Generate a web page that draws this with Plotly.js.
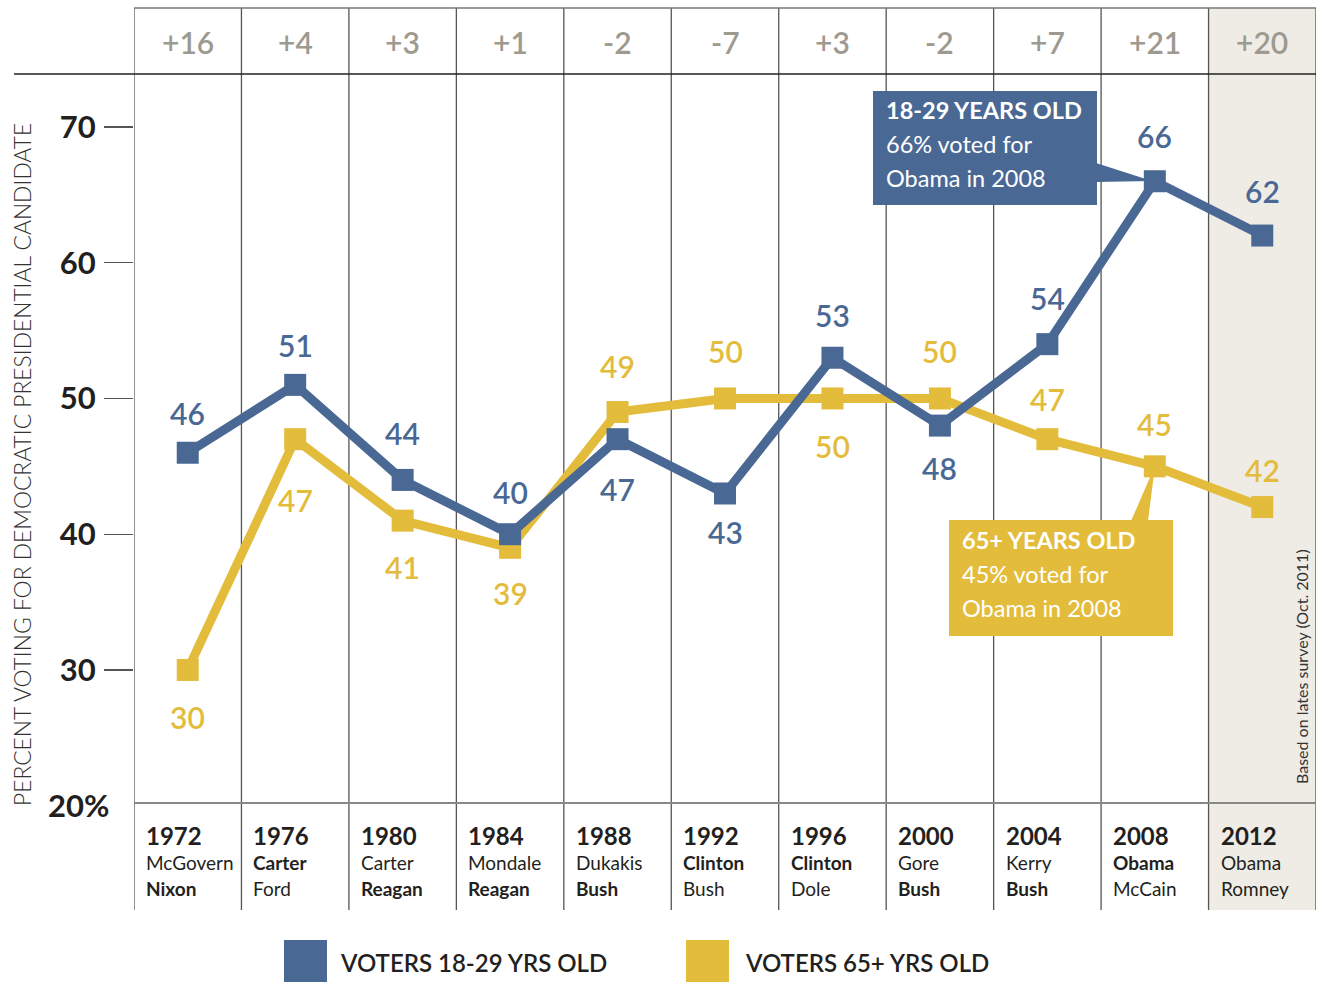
<!DOCTYPE html>
<html>
<head>
<meta charset="utf-8">
<script src="https://cdn.plot.ly/plotly-3.0.1.min.js"></script>
<style>html,body{margin:0;padding:0;background:#fff;}#chart{width:1317px;height:982px;}</style>
</head>
<body>
<div id="chart"></div>
<script>
// ---- data ----
const years = ["1972","1976","1980","1984","1988","1992","1996","2000","2004","2008","2012"];
const demCandidates = ["McGovern","Carter","Carter","Mondale","Dukakis","Clinton","Clinton","Gore","Kerry","Obama","Obama"];
const repCandidates = ["Nixon","Ford","Reagan","Reagan","Bush","Bush","Dole","Bush","Bush","McCain","Romney"];
const winners = ["R","D","R","R","R","D","D","R","R","D",""];
const gaps = ["+16","+4","+3","+1","-2","-7","+3","-2","+7","+21","+20"];
const young = [46,51,44,40,47,43,53,48,54,66,62];
const old = [30,47,41,39,49,50,50,50,47,45,42];

// ---- styles ----
const BLUE = "#4a6894", YELLOW = "#e3bc3c", FONT = "Lato, 'Open Sans', sans-serif";
const youngLabelShift = [40,40,47,42,-50,-39,43,-42,46,45,45];
const oldLabelShift = [-47,-61,-46,-45,46,47,-48,47,40,42,37];

const T = 74, B = 803, L = 134, R = 1316;
const pxX = p => (p - L) / (R - L);
const pxY = p => (B - p) / (B - T);
const idx = years.map((_, i) => i);

const traces = [
  {x: idx, y: old, type: "scatter", mode: "lines+markers", line: {color: YELLOW, width: 9},
   marker: {symbol: "square", size: 22, color: YELLOW}, hoverinfo: "skip", name: "VOTERS 65+ YRS OLD"},
  {x: idx, y: young, type: "scatter", mode: "lines+markers", line: {color: BLUE, width: 9},
   marker: {symbol: "square", size: 22, color: BLUE}, hoverinfo: "skip", name: "VOTERS 18-29 YRS OLD"}
];

const shapes = [];
const annotations = [];

// 2012 column background
shapes.push({type: "rect", xref: "x", yref: "paper", x0: years.length - 1.5, x1: years.length - 0.5,
  y0: pxY(910), y1: pxY(8), fillcolor: "#efece6", line: {width: 0}, layer: "below"});
// vertical separators
for (let i = 0; i <= years.length; i++) {
  shapes.push({type: "line", xref: "x", yref: "paper", x0: i - 0.5, x1: i - 0.5, y0: pxY(910), y1: pxY(8),
    line: {color: "#555", width: 1.3}, layer: "below"});
}
// horizontal lines
shapes.push({type: "line", xref: "paper", yref: "paper", x0: pxX(134), x1: pxX(1316), y0: pxY(8), y1: pxY(8), line: {color: "#777", width: 1.5}});
shapes.push({type: "line", xref: "paper", yref: "paper", x0: pxX(14), x1: pxX(1316), y0: pxY(74), y1: pxY(74), line: {color: "#222", width: 1.5}});
shapes.push({type: "line", xref: "paper", yref: "paper", x0: pxX(134), x1: pxX(1316), y0: pxY(803), y1: pxY(803), line: {color: "#888", width: 2}});

// header gaps & bottom labels
years.forEach((yr, i) => {
  annotations.push({xref: "x", yref: "paper", x: i, y: pxY(42), text: gaps[i], showarrow: false,
    font: {family: FONT, size: 30, color: "#9d9a90", weight: 600}, xanchor: "center", yanchor: "middle"});
  annotations.push({xref: "x", yref: "paper", x: i - 0.5, xshift: 10, y: pxY(836), text: "<b>" + yr + "</b>", showarrow: false,
    font: {family: FONT, size: 24, color: "#231f20"}, xanchor: "left", yanchor: "middle"});
  const d = winners[i] === "D" ? "<b>" + demCandidates[i] + "</b>" : demCandidates[i];
  const r = winners[i] === "R" ? "<b>" + repCandidates[i] + "</b>" : repCandidates[i];
  annotations.push({xref: "x", yref: "paper", x: i - 0.5, xshift: 10, y: pxY(862), text: d, showarrow: false,
    font: {family: FONT, size: 19, color: "#231f20"}, xanchor: "left", yanchor: "middle"});
  annotations.push({xref: "x", yref: "paper", x: i - 0.5, xshift: 10, y: pxY(888), text: r, showarrow: false,
    font: {family: FONT, size: 19, color: "#231f20"}, xanchor: "left", yanchor: "middle"});
  // data labels
  annotations.push({xref: "x", yref: "y", x: i, y: young[i], yshift: youngLabelShift[i], text: String(young[i]), showarrow: false,
    font: {family: FONT, size: 30, color: BLUE, weight: 600}, xanchor: "center", yanchor: "middle"});
  annotations.push({xref: "x", yref: "y", x: i, y: old[i], yshift: oldLabelShift[i], text: String(old[i]), showarrow: false,
    font: {family: FONT, size: 30, color: YELLOW, weight: 600}, xanchor: "center", yanchor: "middle"});
});

// 20% label
annotations.push({xref: "paper", yref: "paper", x: pxX(111), y: pxY(805), text: "<b>20%</b>", showarrow: false,
  font: {family: FONT, size: 31, color: "#231f20"}, xanchor: "right", yanchor: "middle"});
// y title
annotations.push({xref: "paper", yref: "paper", x: pxX(22), y: pxY(465), text: "PERCENT VOTING FOR DEMOCRATIC PRESIDENTIAL CANDIDATE",
  showarrow: false, textangle: -90, font: {family: FONT, size: 22.8, color: "#333", weight: 300}, xanchor: "center", yanchor: "middle"});
// note
annotations.push({xref: "paper", yref: "paper", x: pxX(1301), y: pxY(667), text: "Based on lates survey (Oct. 2011)",
  showarrow: false, textangle: -90, font: {family: FONT, size: 16, color: "#333"}, xanchor: "center", yanchor: "middle"});

// callouts
function pathPx(pts) {
  return "M" + pts.map(p => pxX(p[0]) + "," + pxY(p[1])).join(" L") + " Z";
}
shapes.push({type: "rect", xref: "paper", yref: "paper", x0: pxX(873), x1: pxX(1097), y0: pxY(205), y1: pxY(91), fillcolor: BLUE, line: {width: 0}});
shapes.push({type: "path", xref: "paper", yref: "paper", path: pathPx([[1096,163],[1152,181],[1096,182]]), fillcolor: BLUE, line: {width: 0}});
shapes.push({type: "rect", xref: "paper", yref: "paper", x0: pxX(949), x1: pxX(1173), y0: pxY(636), y1: pxY(520), fillcolor: YELLOW, line: {width: 0}});
shapes.push({type: "path", xref: "paper", yref: "paper", path: pathPx([[1131,521],[1155,466],[1148,521]]), fillcolor: YELLOW, line: {width: 0}});

const blueLines = ["<b>18-29 YEARS OLD</b>", "66% voted for", "Obama in 2008"];
blueLines.forEach((t, k) => annotations.push({xref: "paper", yref: "paper", x: pxX(884), y: pxY(110 + 34 * k), text: t, showarrow: false,
  font: {family: FONT, size: 23.5, color: "#fff"}, xanchor: "left", yanchor: "middle"}));
const yellowLines = ["<b>65+ YEARS OLD</b>", "45% voted for", "Obama in 2008"];
yellowLines.forEach((t, k) => annotations.push({xref: "paper", yref: "paper", x: pxX(960), y: pxY(540 + 34 * k), text: t, showarrow: false,
  font: {family: FONT, size: 23.5, color: "#fff"}, xanchor: "left", yanchor: "middle"}));

// legend (manual)
shapes.push({type: "rect", xref: "paper", yref: "paper", x0: pxX(284), x1: pxX(327), y0: pxY(983), y1: pxY(940), fillcolor: BLUE, line: {width: 0}});
shapes.push({type: "rect", xref: "paper", yref: "paper", x0: pxX(686), x1: pxX(729), y0: pxY(983), y1: pxY(940), fillcolor: YELLOW, line: {width: 0}});
annotations.push({xref: "paper", yref: "paper", x: pxX(338), y: pxY(962), text: traces[1].name, showarrow: false,
  font: {family: FONT, size: 24, color: "#231f20", weight: 600}, xanchor: "left", yanchor: "middle"});
annotations.push({xref: "paper", yref: "paper", x: pxX(743), y: pxY(962), text: traces[0].name, showarrow: false,
  font: {family: FONT, size: 24, color: "#231f20", weight: 600}, xanchor: "left", yanchor: "middle"});

const layout = {
  width: 1317, height: 982,
  margin: {l: L, r: 1317 - R, t: T, b: 982 - B, pad: 0},
  paper_bgcolor: "#fff", plot_bgcolor: "rgba(0,0,0,0)",
  showlegend: false,
  font: {family: FONT},
  xaxis: {range: [-0.5, years.length - 0.5], showgrid: false, zeroline: false, showticklabels: false, ticks: "", showline: false, fixedrange: true},
  yaxis: {range: [20.2, 73.9], tickvals: [30, 40, 50, 60, 70], ticktext: ["30", "40", "50", "60", "70"],
    ticks: "outside", ticklen: 29, tickcolor: "#555", tickwidth: 1.3, showgrid: false, zeroline: false, showline: false,
    tickfont: {family: FONT, size: 31, color: "#231f20", weight: 700}, ticklabelstandoff: 2, fixedrange: true},
  shapes: shapes,
  annotations: annotations
};

Plotly.newPlot("chart", traces, layout, {displayModeBar: false, staticPlot: true});
</script>
</body>
</html>
